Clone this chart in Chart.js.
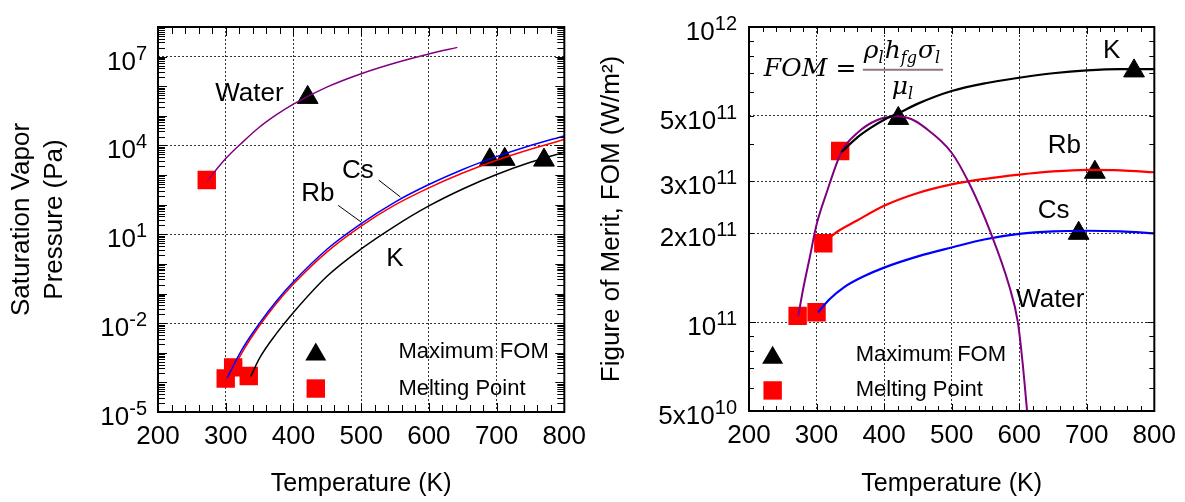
<!DOCTYPE html>
<html>
<head>
<meta charset="utf-8">
<script src="https://cdn.jsdelivr.net/npm/chart.js@4.4.1/dist/chart.umd.min.js"></script>
<style>
  html, body { margin: 0; padding: 0; background: #fff; }
  #wrap { position: relative; width: 1185px; height: 502px; }
  #pressureChart { position: absolute; left: 0; top: 0; }
  #fomChart { position: absolute; left: 595px; top: 0; }
</style>
</head>
<body>
<div id="wrap">
  <canvas id="pressureChart" width="595" height="502"></canvas>
  <canvas id="fomChart" width="590" height="502"></canvas>
</div>
<script>
// ---- saturation vapor pressure (Pa) vs temperature (K) ----
const waterT = [273, 300, 325, 350, 375, 400, 450, 500, 550, 600, 642];
const waterP = [650, 3.6e3, 1.3e4, 4.2e4, 1.1e5, 2.5e5, 9.5e5, 2.65e6, 6.1e6, 1.23e7, 2.05e7];
const csT = [302, 325, 350, 375, 400, 450, 500, 550, 600, 650, 700, 750, 800];
const csP = [1.4e-4, 1.4e-3, 1.0e-2, 5.6e-2, 0.25, 3.2, 23, 123, 480, 1550, 4200, 1.0e4, 2.1e4];
const rbT = [304, 325, 350, 375, 400, 450, 500, 550, 600, 650, 700, 750, 800];
const rbP = [1.4e-4, 1.1e-3, 8.3e-3, 4.7e-2, 0.21, 2.6, 19, 98, 370, 1170, 3160, 7400, 1.6e4];
const kT = [337, 350, 375, 400, 450, 500, 550, 600, 650, 700, 750, 800];
const kP = [1.6e-4, 6.6e-4, 4.5e-3, 2.3e-2, 0.39, 3.2, 19, 91, 340, 1050, 2700, 5900];

// melting point / maximum FOM markers (water, Cs, Rb, K)
const meltT = [272, 300, 311, 334];
const meltP = [680, 1.35e-4, 3.2e-4, 1.65e-4];
const maxFomT = [421, 690, 712, 770];
const maxFomP = [4.2e5, 3.3e3, 3.4e3, 3.2e3];

// ---- figure of merit (W/m2) vs temperature (K) ----
const fomWaterT = [273, 280, 290, 300, 315, 337, 360, 390, 421, 440, 460, 500, 527, 557, 585, 598, 605, 612];
const fomWater = [1.05e11, 1.29e11, 1.66e11, 2.14e11, 2.75e11, 3.78e11, 4.37e11, 4.84e11, 4.98e11, 4.88e11, 4.57e11, 3.75e11, 2.92e11, 2.03e11, 1.33e11, 1.0e11, 7.3e10, 4.9e10];
const fomKT = [337, 360, 380, 400, 421, 450, 500, 550, 600, 650, 700, 750, 800];
const fomK = [3.77e11, 4.22e11, 4.55e11, 4.85e11, 5.1e11, 5.5e11, 6.07e11, 6.45e11, 6.73e11, 6.97e11, 7.13e11, 7.2e11, 7.2e11];
const fomRbT = [310, 330, 360, 400, 450, 500, 550, 600, 650, 700, 750, 800];
const fomRb = [1.86e11, 2.02e11, 2.21e11, 2.48e11, 2.74e11, 2.93e11, 3.06e11, 3.16e11, 3.24e11, 3.28e11, 3.27e11, 3.22e11];
const fomCsT = [302, 320, 340, 370, 400, 450, 500, 550, 600, 650, 700, 750, 800];
const fomCs = [1.08e11, 1.20e11, 1.31e11, 1.43e11, 1.53e11, 1.67e11, 1.79e11, 1.91e11, 1.99e11, 2.03e11, 2.04e11, 2.03e11, 2.0e11];

const fomMeltT = [272, 300, 310, 335];
const fomMelt = [1.05e11, 1.08e11, 1.85e11, 3.8e11];
const fomMaxT = [421, 688, 712, 770];
const fomMax = [4.9e11, 2.0e11, 3.22e11, 7.1e11];

// ---- axis ticks ----
const pressureGrid = [1e-5, 1e-2, 1e1, 1e4, 1e7];
const pressureLabels = [['10', '-5'], ['10', '-2'], ['10', '1'], ['10', '4'], ['10', '7']];
const fomGrid = [5e10, 1e11, 2e11, 3e11, 5e11, 1e12];
const fomLabels = [['5x10', '10'], ['10', '11'], ['2x10', '11'], ['3x10', '11'], ['5x10', '11'], ['10', '12']];

const FONT = "'Liberation Sans', Arial, sans-serif";
Chart.defaults.font.family = FONT;
Chart.defaults.color = '#000';

const pts = (xs, ys) => xs.map((v, i) => ({x: v, y: ys[i]}));

function curve(xs, ys, color, width) {
  return {
    data: pts(xs, ys), showLine: true, borderColor: color, borderWidth: width,
    pointRadius: 0, cubicInterpolationMode: 'monotone', fill: false
  };
}
function markers(xs, ys, style) {
  const tri = style === 'triangle';
  return {
    data: pts(xs, ys), showLine: false, pointStyle: style,
    pointRadius: tri ? 12 : 13,
    backgroundColor: tri ? '#000' : '#ff0000',
    borderColor: tri ? '#000' : '#ff0000', borderWidth: tri ? 1 : 0
  };
}

function supLabel(ctx, base, exp, xr, yc) {
  ctx.font = '26px ' + FONT;
  const wb = ctx.measureText(base).width;
  ctx.font = '20px ' + FONT;
  const we = ctx.measureText(exp).width;
  const x0 = xr - wb - we;
  ctx.textAlign = 'left';
  ctx.textBaseline = 'alphabetic';
  ctx.font = '26px ' + FONT;
  ctx.fillText(base, x0, yc + 13);
  ctx.font = '20px ' + FONT;
  ctx.fillText(exp, x0 + wb, yc + 3);
}

function drawFormula(ctx, ax, ay) {
  const big = 'italic 25px "DejaVu Serif", serif';
  const sub = 'italic 16px "DejaVu Serif", serif';
  ctx.fillStyle = '#000';
  ctx.textAlign = 'left';
  ctx.textBaseline = 'alphabetic';
  ctx.font = big;
  ctx.fillText('FOM', ax, ay);
  ctx.textAlign = 'center';
  ctx.font = '25px "DejaVu Serif", serif';
  ctx.fillText('=', ax + 82, ay);
  ctx.textAlign = 'left';
  // numerator
  let px = ax + 100;
  const ny = ay - 18;
  const parts = [['ρ', 0], ['l', 1], ['h', 0], ['fg', 1], ['σ', 0], ['l', 1]];
  parts.forEach(([s, isSub]) => {
    ctx.font = isSub ? sub : big;
    ctx.fillText(s, px, isSub ? ny + 5 : ny);
    px += ctx.measureText(s).width + (isSub ? 1 : 0);
  });
  ctx.strokeStyle = '#907878';
  ctx.lineWidth = 2;
  ctx.beginPath();
  ctx.moveTo(ax + 99, ay - 6.5);
  ctx.lineTo(px + 2, ay - 6.5);
  ctx.stroke();
  // denominator
  ctx.font = big;
  const wm = ctx.measureText('μ').width;
  const dx = (ax + 100 + px) / 2 - (wm + 5) / 2;
  ctx.fillText('μ', dx, ay + 18);
  ctx.font = sub;
  ctx.fillText('l', dx + wm, ay + 23);
}

const decor = {
  id: 'decor',
  afterDraw(chart, args, o) {
    const {ctx, chartArea: a, scales: {x, y}} = chart;
    ctx.save();
    ctx.strokeStyle = '#000';
    ctx.lineWidth = 1;
    ctx.beginPath();
    // x ticks, inside, bottom and top
    for (let t = x.min; t <= x.max + 0.01; t += 20) {
      const px = Math.round(x.getPixelForValue(t)) + 0.5;
      const len = t % 100 === 0 ? o.majorLen : o.minorLen;
      ctx.moveTo(px, a.bottom); ctx.lineTo(px, a.bottom - len);
      ctx.moveTo(px, a.top); ctx.lineTo(px, a.top + len);
    }
    // log y ticks, inside, left and right
    const k0 = Math.floor(Math.log10(y.min)), k1 = Math.ceil(Math.log10(y.max));
    for (let k = k0; k <= k1; k++) {
      for (let m = 1; m <= 9; m++) {
        const v = m * Math.pow(10, k);
        if (v < y.min * 0.999 || v > y.max * 1.001) continue;
        const py = Math.round(y.getPixelForValue(v)) + 0.5;
        const len = m === 1 ? o.majorLen : o.minorLen;
        ctx.moveTo(a.left, py); ctx.lineTo(a.left + len, py);
        ctx.moveTo(a.right, py); ctx.lineTo(a.right - len, py);
      }
    }
    ctx.stroke();
    ctx.lineWidth = 2;
    ctx.strokeRect(a.left, a.top, a.width, a.height);

    // y tick labels with superscripts
    ctx.fillStyle = '#000';
    o.grid.forEach((v, i) => {
      supLabel(ctx, o.labels[i][0], o.labels[i][1], a.left - o.labelGap, y.getPixelForValue(v));
    });

    // curve names
    ctx.font = '26px ' + FONT;
    ctx.textAlign = 'center';
    ctx.textBaseline = 'middle';
    o.notes.forEach(n => ctx.fillText(n.text, x.getPixelForValue(n.x), y.getPixelForValue(n.y)));
    ctx.lineWidth = 1;
    ctx.beginPath();
    o.leaders.forEach(l => {
      ctx.moveTo(x.getPixelForValue(l[0]), y.getPixelForValue(l[1]));
      ctx.lineTo(x.getPixelForValue(l[2]), y.getPixelForValue(l[3]));
    });
    ctx.stroke();

    // legend
    const lg = o.legend;
    const lx = x.getPixelForValue(lg.x);
    const ty = y.getPixelForValue(lg.yTri);
    const sy = y.getPixelForValue(lg.ySq);
    ctx.fillStyle = '#000';
    ctx.beginPath();
    ctx.moveTo(lx, ty - 9.5); ctx.lineTo(lx + 10.5, ty + 8.5); ctx.lineTo(lx - 10.5, ty + 8.5);
    ctx.closePath(); ctx.fill();
    ctx.fillStyle = '#ff0000';
    ctx.fillRect(lx - 9.2, sy - 9.2, 18.4, 18.4);
    ctx.fillStyle = '#000';
    ctx.font = '22px ' + FONT;
    ctx.textAlign = 'left';
    const tx = x.getPixelForValue(lg.textX);
    ctx.fillText('Maximum FOM', tx, ty);
    ctx.fillText('Melting Point', tx, sy);

    if (o.formula) {
      drawFormula(ctx, x.getPixelForValue(o.formula.x), y.getPixelForValue(o.formula.y));
    }
    ctx.restore();
  }
};

function baseOptions(grid, yMin, yMax, yWidth, xHeight, padRight, yTitle, yTitlePad) {
  return {
    responsive: false,
    animation: false,
    events: [],
    layout: {padding: {left: 0, right: padRight, top: 27, bottom: 0}},
    plugins: {legend: {display: false}, tooltip: {enabled: false}},
    scales: {
      x: {
        type: 'linear', position: 'bottom', min: 200, max: 800,
        ticks: {stepSize: 100, font: {size: 26}, padding: 9, maxRotation: 0, autoSkip: false},
        grid: {color: '#333', lineWidth: 1, drawTicks: false},
        border: {display: false, dash: [2, 2]},
        title: {display: true, text: 'Temperature (K)', font: {size: 25, lineHeight: 1.2}, padding: {top: 0, bottom: 3}},
        afterFit: s => { s.height = xHeight; }
      },
      y: {
        type: 'logarithmic', position: 'left', min: yMin, max: yMax,
        ticks: {display: false},
        grid: {color: '#333', lineWidth: 1, drawTicks: false},
        border: {display: false, dash: [2, 2]},
        title: {display: true, text: yTitle, font: {size: 26, lineHeight: 1.27}, padding: {top: yTitlePad, bottom: 0}},
        afterBuildTicks: s => { s.ticks = grid.map(v => ({value: v})); },
        afterFit: s => { s.width = yWidth; }
      }
    }
  };
}

// Saturation vapor pressure chart
const pOpts = baseOptions(pressureGrid, 1e-5, 1e8, 158, 90, 28, ['Saturation Vapor', 'Pressure (Pa)'], 5);
pOpts.plugins.decor = {
  majorLen: 9, minorLen: 7, labelGap: 11,
  grid: pressureGrid, labels: pressureLabels,
  notes: [
    {text: 'Water', x: 335, y: 5.75e5},
    {text: 'Cs', x: 495, y: 1.38e3},
    {text: 'Rb', x: 436, y: 224},
    {text: 'K', x: 550, y: 1.5}
  ],
  leaders: [[526, 676, 558, 182], [466, 95, 500, 26]],
  legend: {x: 433, yTri: 1.07e-3, ySq: 6.2e-5, textX: 555}
};
new Chart(document.getElementById('pressureChart'), {
  type: 'scatter',
  data: {
    datasets: [
      curve(waterT, waterP, '#800080', 1.5),
      curve(csT, csP, '#0000ff', 1.5),
      curve(rbT, rbP, '#ff0000', 1.5),
      curve(kT, kP, '#000000', 1.5),
      markers(maxFomT, maxFomP, 'triangle'),
      markers(meltT, meltP, 'rect')
    ]
  },
  options: pOpts,
  plugins: [decor]
});

// Figure of merit chart
const fOpts = baseOptions(fomGrid, 5e10, 1e12, 154, 91, 24, 'Figure of Merit, FOM (W/m²)', 0);
fOpts.plugins.decor = {
  majorLen: 7, minorLen: 5, labelGap: 12,
  grid: fomGrid, labels: fomLabels,
  notes: [
    {text: 'K', x: 737, y: 8.28e11},
    {text: 'Rb', x: 667, y: 3.95e11},
    {text: 'Cs', x: 651, y: 2.38e11},
    {text: 'Water', x: 646, y: 1.19e11}
  ],
  leaders: [],
  legend: {x: 235, yTri: 7.73e10, ySq: 5.87e10, textX: 358},
  formula: {x: 222, y: 6.81e11}
};
new Chart(document.getElementById('fomChart'), {
  type: 'scatter',
  data: {
    datasets: [
      curve(fomKT, fomK, '#000000', 2.2),
      curve(fomWaterT, fomWater, '#800080', 2),
      curve(fomRbT, fomRb, '#ff0000', 2.2),
      curve(fomCsT, fomCs, '#0000ff', 2.2),
      markers(fomMaxT, fomMax, 'triangle'),
      markers(fomMeltT, fomMelt, 'rect')
    ]
  },
  options: fOpts,
  plugins: [decor]
});
</script>
</body>
</html>
